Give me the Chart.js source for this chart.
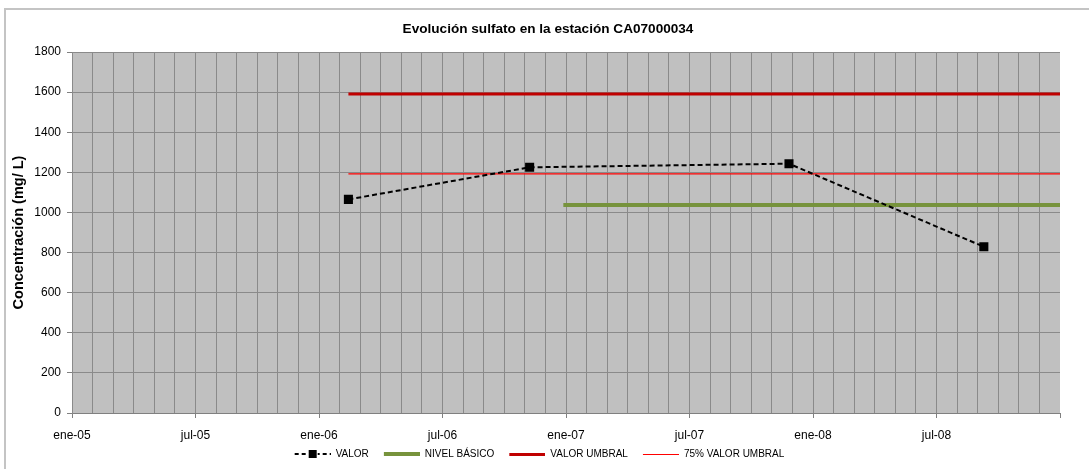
<!DOCTYPE html>
<html>
<head>
<meta charset="utf-8">
<script src="https://cdn.jsdelivr.net/npm/chart.js@4.4.0/dist/chart.umd.min.js"></script>
<style>
html, body { margin: 0; padding: 0; background: #fff; }
canvas { display: block; }
</style>
</head>
<body>
<canvas id="grafico" width="1089" height="469"></canvas>
<script>
// datos
const titulo = 'Evolución sulfato en la estación CA07000034';
const meses = ['ene', 'feb', 'mar', 'abr', 'may', 'jun', 'jul', 'ago', 'sep', 'oct', 'nov', 'dic'];
const fechasValor = ['2006-02-13', '2006-11-08', '2007-11-26', '2008-09-10'];
const valores = [1065, 1225, 1243, 829];
const fechasUmbral = ['2006-02-13', '2009-01-01'];
const valorUmbral = [1590, 1590];
const umbral75 = [1192.5, 1192.5];
const fechasNivel = ['2006-12-28', '2009-01-01'];
const nivelBasico = [1037, 1037];

// meses transcurridos desde ene-05
function mesesDesdeInicio(f) {
    const [a, m, d] = f.split('-').map(Number);
    const dias = new Date(a, m, 0).getDate();
    return (a - 2005) * 12 + (m - 1) + (d - 1) / dias;
}

function puntos(fechas, vals) {
    return fechas.map((f, i) => ({ x: mesesDesdeInicio(f), y: vals[i] }));
}

// muestras para la leyenda (con hueco a la izquierda para separar elementos)
const HUECO = 9;
function muestra(color, grosor, guiones, marcador) {
    const c = document.createElement('canvas');
    c.width = 36 + HUECO;
    c.height = 10;
    const g = c.getContext('2d');
    g.fillStyle = color;
    const top = 5 - Math.floor(grosor / 2);
    if (guiones) {
        for (let x = HUECO; x < c.width; x += guiones[0] + guiones[1]) {
            g.fillRect(x, top, guiones[0], grosor);
        }
    } else {
        g.fillRect(HUECO, top, 36, grosor);
    }
    if (marcador) {
        g.clearRect(HUECO + 13, 0, 10, 10);
        g.fillRect(HUECO + 14, 1, 8, 8);
    }
    return c;
}
const muestras = [
    muestra('#000', 2, [4, 3], true),
    muestra('#77933c', 4),
    muestra('#c00000', 3),
    muestra('#ff0000', 1)
];

const fondo = {
    id: 'fondo',
    beforeDraw(chart) {
        const ctx = chart.ctx;
        const a = chart.chartArea;
        ctx.save();
        ctx.fillStyle = '#fff';
        ctx.fillRect(0, 0, chart.width, chart.height);
        ctx.strokeStyle = '#c4c4c4';
        ctx.lineWidth = 2;
        ctx.beginPath();
        ctx.moveTo(5, chart.height + 5);
        ctx.lineTo(5, 9);
        ctx.lineTo(chart.width + 5, 9);
        ctx.stroke();
        ctx.fillStyle = '#c0c0c0';
        ctx.fillRect(a.left, a.top, a.right - a.left, a.bottom - a.top);
        ctx.restore();
    },
    afterDraw(chart) {
        const ctx = chart.ctx;
        ctx.save();
        ctx.font = 'bold 13.6px "Liberation Sans", Arial, sans-serif';
        ctx.fillStyle = '#000';
        ctx.textAlign = 'center';
        ctx.textBaseline = 'middle';
        ctx.fillText(titulo, 548, 29);
        ctx.restore();
    }
};

Chart.defaults.font.family = '"Liberation Sans", Arial, sans-serif';
Chart.defaults.color = '#000';

new Chart(document.getElementById('grafico'), {
    type: 'line',
    data: {
        datasets: [{
            label: 'VALOR',
            data: puntos(fechasValor, valores),
            borderColor: '#000',
            backgroundColor: '#000',
            borderWidth: 2,
            borderDash: [5, 3],
            pointStyle: 'rect',
            pointRadius: 5,
            tension: 0
        }, {
            label: 'NIVEL BÁSICO',
            data: puntos(fechasNivel, nivelBasico),
            borderColor: '#77933c',
            borderWidth: 4,
            pointRadius: 0
        }, {
            label: 'VALOR UMBRAL',
            data: puntos(fechasUmbral, valorUmbral),
            borderColor: '#c00000',
            borderWidth: 3,
            pointRadius: 0
        }, {
            label: '75% VALOR UMBRAL',
            data: puntos(fechasUmbral, umbral75),
            borderColor: '#ff0000',
            borderWidth: 1.3,
            pointRadius: 0
        }]
    },
    options: {
        responsive: false,
        animation: false,
        layout: { padding: { left: 10, right: 29, top: 52, bottom: 0 } },
        plugins: {
            title: { display: false },
            legend: {
                position: 'bottom',
                labels: {
                    usePointStyle: true,
                    pointStyleWidth: 36 + HUECO,
                    boxHeight: 10,
                    padding: 6,
                    font: { size: 10 },
                    generateLabels(chart) {
                        const items = Chart.defaults.plugins.legend.labels.generateLabels(chart);
                        items.forEach((it, i) => { it.pointStyle = muestras[i]; });
                        return items;
                    }
                }
            },
            tooltip: { enabled: false }
        },
        scales: {
            x: {
                type: 'linear',
                min: 0,
                max: 48,
                afterFit(scale) { scale.height = 30; },
                border: { color: '#808080', width: 1 },
                grid: {
                    color: ctx => ctx.tick && ctx.tick.value === 48 ? 'rgba(0,0,0,0)' : '#8a8a8a',
                    tickColor: ctx => ctx.tick && ctx.tick.value % 6 === 0 ? '#808080' : 'rgba(0,0,0,0)',
                    tickLength: 5
                },
                ticks: {
                    stepSize: 1,
                    autoSkip: false,
                    maxRotation: 0,
                    padding: 10,
                    font: { size: 12 },
                    callback(v) {
                        if (v % 6 !== 0 || v >= 48) return '';
                        return meses[v % 12] + '-' + String(2005 + Math.floor(v / 12)).slice(2);
                    }
                }
            },
            y: {
                min: 0,
                max: 1800,
                afterFit(scale) { scale.width = 62; },
                border: { color: '#8a8a8a', width: 1 },
                grid: { color: '#8a8a8a', tickColor: '#808080', tickLength: 5 },
                ticks: {
                    stepSize: 200,
                    padding: 6,
                    font: { size: 12 },
                    callback: v => String(v)
                },
                title: {
                    display: true,
                    text: 'Concentración (mg/ L)',
                    font: { size: 14.5, weight: 'bold' },
                    padding: 0
                }
            }
        }
    },
    plugins: [fondo]
});
</script>
</body>
</html>
